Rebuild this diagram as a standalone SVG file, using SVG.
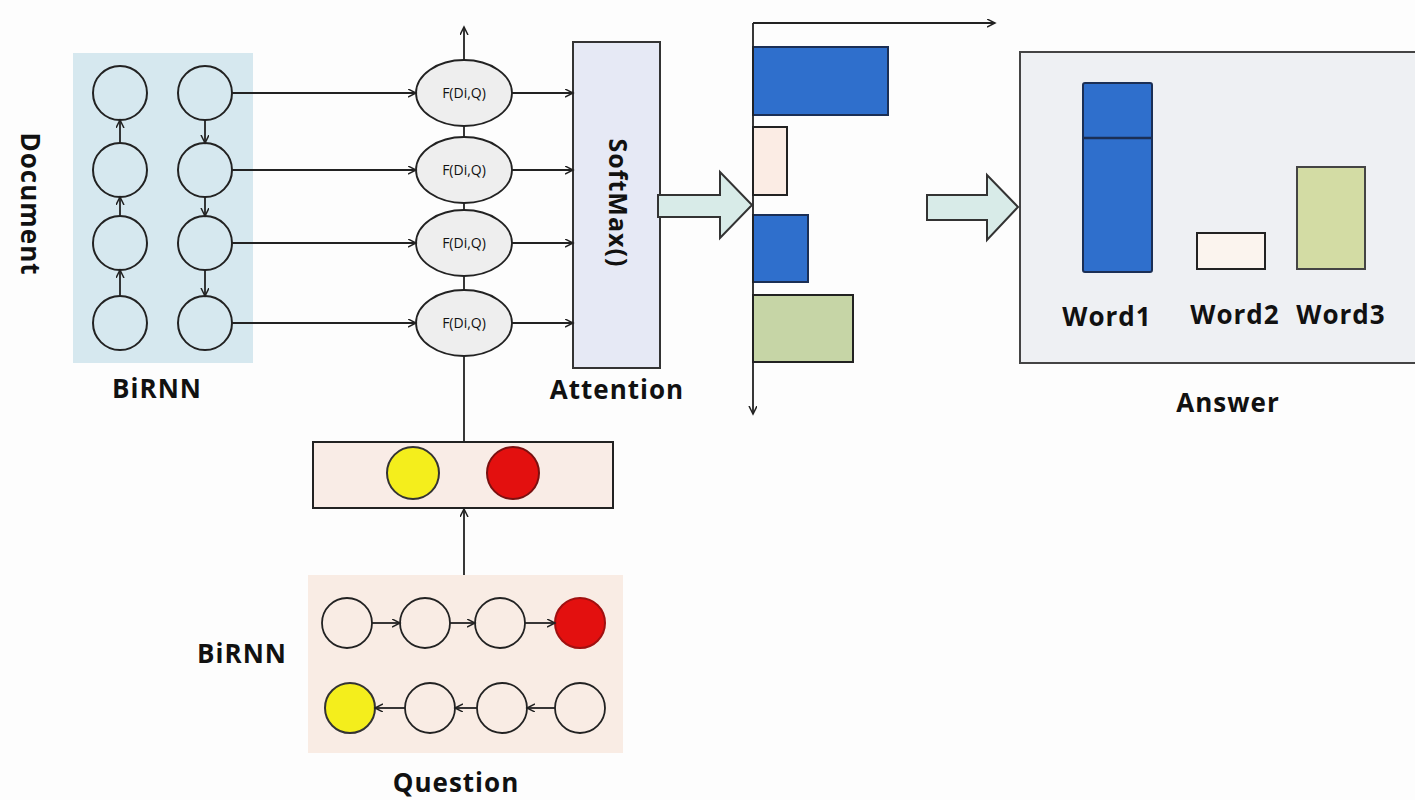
<svg xmlns="http://www.w3.org/2000/svg" width="1415" height="800" viewBox="0 0 1415 800">
<defs>
<marker id="ar" markerWidth="10" markerHeight="10" refX="8" refY="4" orient="auto" markerUnits="userSpaceOnUse">
<path d="M0,0 L8,4 L0,8" fill="none" stroke="#222" stroke-width="1.5"/>
</marker>
<style>
.c{fill:none;stroke:#222;stroke-width:2}
.cp{fill:#f9ece4;stroke:#222;stroke-width:1.8}
.ln{stroke:#222;stroke-width:1.8;fill:none}
.lb{font-family:"Open Sans","DejaVu Sans",sans-serif;font-weight:bold;font-size:26px;letter-spacing:1px;fill:#111;text-anchor:middle}
.f{font-family:"Open Sans","DejaVu Sans",sans-serif;font-size:14px;fill:#111;text-anchor:middle}
.el{fill:#eeeeee;stroke:#222;stroke-width:1.8}
.blue{fill:#2f6fcc;stroke:#1b2f55;stroke-width:2}
.pink{fill:#fbece4;stroke:#222;stroke-width:2}
.green{fill:#c6d5a6;stroke:#222;stroke-width:2}
.bigar{fill:#d8ebe8;stroke:#333;stroke-width:2}
</style>
</defs>
<rect width="1415" height="800" fill="#fdfdfd"/>

<g id="doc-birnn">
<rect x="73" y="53" width="180" height="310" fill="#d6e8ef"/>
<circle class="c" cx="120" cy="93" r="27"/>
<circle class="c" cx="120" cy="170" r="27"/>
<circle class="c" cx="120" cy="243" r="27"/>
<circle class="c" cx="120" cy="323" r="27"/>
<circle class="c" cx="205" cy="93" r="27"/>
<circle class="c" cx="205" cy="170" r="27"/>
<circle class="c" cx="205" cy="243" r="27"/>
<circle class="c" cx="205" cy="323" r="27"/>
<text class="lb" x="157" y="398">BiRNN</text>
<text class="lb" transform="translate(21,204) rotate(90)">Document</text>
</g>

<g id="fdiq">
<ellipse class="el" cx="464" cy="93" rx="48" ry="33"/>
<ellipse class="el" cx="464" cy="170" rx="48" ry="33"/>
<ellipse class="el" cx="464" cy="243" rx="48" ry="33"/>
<ellipse class="el" cx="464" cy="323" rx="48" ry="33"/>
<text class="f" x="464" y="98">F(Di,Q)</text>
<text class="f" x="464" y="175">F(Di,Q)</text>
<text class="f" x="464" y="248">F(Di,Q)</text>
<text class="f" x="464" y="328">F(Di,Q)</text>
</g>

<g id="softmax">
<rect x="573" y="42" width="87" height="326" fill="#e6e9f5" stroke="#333" stroke-width="2"/>
<text class="lb" style="font-size:25px" transform="translate(609,203) rotate(90)">SoftMax()</text>
<text class="lb" x="617" y="399">Attention</text>
</g>

<g id="attn-bars">
<rect class="blue" x="753" y="47" width="135" height="68"/>
<rect class="pink" x="753" y="127" width="34" height="68"/>
<rect class="blue" x="753" y="215" width="55" height="67"/>
<rect class="green" x="753" y="295" width="100" height="67"/>
</g>

<g id="answer">
<rect x="1020" y="52" width="400" height="311" fill="#eef0f3" stroke="#444" stroke-width="2"/>
<rect class="blue" x="1083" y="83" width="69" height="189" rx="2"/>
<line x1="1083" y1="138" x2="1152" y2="138" stroke="#1b2f55" stroke-width="2.5"/>
<rect x="1197" y="233" width="68" height="36" fill="#fbf4ee" stroke="#222" stroke-width="2"/>
<rect x="1297" y="167" width="68" height="102" fill="#d3dca4" stroke="#444" stroke-width="2"/>
<text class="lb" x="1107" y="326">Word1</text>
<text class="lb" x="1235" y="324">Word2</text>
<text class="lb" x="1341" y="324">Word3</text>
<text class="lb" x="1228" y="412">Answer</text>
</g>

<g id="q-vector">
<rect x="313" y="442" width="300" height="66" fill="#f9ece6" stroke="#222" stroke-width="2"/>
<circle cx="413" cy="473" r="26" fill="#f4ee1c" stroke="#333" stroke-width="2"/>
<circle cx="513" cy="473" r="26" fill="#e3100f" stroke="#7a1010" stroke-width="2"/>
</g>

<g id="q-birnn">
<rect x="308" y="575" width="315" height="178" fill="#f9ece4"/>
<circle class="cp" cx="347" cy="623" r="25"/>
<circle class="cp" cx="425" cy="623" r="25"/>
<circle class="cp" cx="500" cy="623" r="25"/>
<circle cx="580" cy="623" r="25" fill="#e3100f" stroke="#a01010" stroke-width="2"/>
<circle cx="350" cy="708" r="25" fill="#f4ee1c" stroke="#333" stroke-width="2"/>
<circle class="cp" cx="430" cy="708" r="25"/>
<circle class="cp" cx="502" cy="708" r="25"/>
<circle class="cp" cx="580" cy="708" r="25"/>
<text class="lb" x="242" y="663">BiRNN</text>
<text class="lb" x="456" y="792">Question</text>
</g>

<g id="connectors">
<line class="ln" x1="120" y1="296" x2="120" y2="270" marker-end="url(#ar)"/>
<line class="ln" x1="120" y1="216" x2="120" y2="197" marker-end="url(#ar)"/>
<line class="ln" x1="120" y1="143" x2="120" y2="120" marker-end="url(#ar)"/>
<line class="ln" x1="205" y1="120" x2="205" y2="143" marker-end="url(#ar)"/>
<line class="ln" x1="205" y1="197" x2="205" y2="216" marker-end="url(#ar)"/>
<line class="ln" x1="205" y1="270" x2="205" y2="296" marker-end="url(#ar)"/>
<line class="ln" x1="232" y1="93" x2="416" y2="93" marker-end="url(#ar)"/>
<line class="ln" x1="232" y1="170" x2="416" y2="170" marker-end="url(#ar)"/>
<line class="ln" x1="232" y1="243" x2="416" y2="243" marker-end="url(#ar)"/>
<line class="ln" x1="232" y1="323" x2="416" y2="323" marker-end="url(#ar)"/>
<line class="ln" x1="464" y1="60" x2="464" y2="27" marker-end="url(#ar)"/>
<line class="ln" x1="464" y1="126" x2="464" y2="137"/>
<line class="ln" x1="464" y1="203" x2="464" y2="210"/>
<line class="ln" x1="464" y1="276" x2="464" y2="290"/>
<line class="ln" x1="464" y1="356" x2="464" y2="442"/>
<line class="ln" x1="512" y1="93" x2="573" y2="93" marker-end="url(#ar)"/>
<line class="ln" x1="512" y1="170" x2="573" y2="170" marker-end="url(#ar)"/>
<line class="ln" x1="512" y1="243" x2="573" y2="243" marker-end="url(#ar)"/>
<line class="ln" x1="512" y1="323" x2="573" y2="323" marker-end="url(#ar)"/>
<line class="ln" x1="464" y1="575" x2="464" y2="509" marker-end="url(#ar)"/>
<line class="ln" x1="372" y1="623" x2="400" y2="623" marker-end="url(#ar)"/>
<line class="ln" x1="450" y1="623" x2="475" y2="623" marker-end="url(#ar)"/>
<line class="ln" x1="525" y1="623" x2="555" y2="623" marker-end="url(#ar)"/>
<line class="ln" x1="555" y1="708" x2="527" y2="708" marker-end="url(#ar)"/>
<line class="ln" x1="477" y1="708" x2="455" y2="708" marker-end="url(#ar)"/>
<line class="ln" x1="405" y1="708" x2="375" y2="708" marker-end="url(#ar)"/>
<line class="ln" x1="753" y1="23" x2="753" y2="414" marker-end="url(#ar)"/>
<line class="ln" x1="753" y1="23" x2="995" y2="23" marker-end="url(#ar)"/>
<path class="bigar" d="M658,195 L720,195 L720,172 L752,205 L720,238 L720,217 L658,217 Z"/>
<path class="bigar" d="M927,195 L987,195 L987,175 L1018,207 L987,240 L987,220 L927,220 Z"/>
</g>
</svg>
